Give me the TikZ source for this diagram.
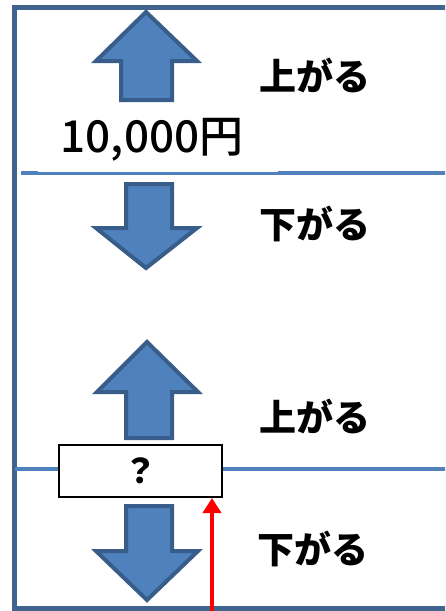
\documentclass[tikz,border=0pt]{standalone}
\usepackage{fontspec}
\newfontfamily\jp{Noto Sans CJK JP}
\newfontfamily\jpm{Noto Sans CJK JP Medium}
\newfontfamily\jpb{Noto Sans CJK JP Black}
\definecolor{afill}{HTML}{4F81BD}
\definecolor{aline}{HTML}{385D8A}
\definecolor{frame}{HTML}{41648F}
\definecolor{hline}{HTML}{4F81BD}
\usetikzlibrary{arrows.meta}
\tikzset{
  bigarrow/.style={fill=afill,draw=aline,line width=4pt,line join=miter},
  label/.style={font=\jpb\fontsize{37}{40}\selectfont,inner sep=0pt},
  divider/.style={draw=hline,line width=3.5pt},
}
\begin{document}
\begin{tikzpicture}[x=1pt,y=-1pt]
\useasboundingbox (0,0) rectangle (445,611);
\begin{scope}
\clip (0,0) rectangle (445,611);
% frame
\draw[frame,line width=5pt] (450,7) -- (14,7) -- (14,608) -- (450,608);
% dividers
\coordinate (d1a) at (21,173); \coordinate (d1b) at (450,173);
\draw[divider] (d1a) -- (d1b);
\coordinate (d2a) at (15,469); \coordinate (d2b) at (450,469);
\draw[divider] (d2a) -- (d2b);
\end{scope}
% white box behind price
\fill[white] (38,104) rectangle (278,172.3);
\node[font=\jpm\fontsize{44}{46}\selectfont,inner sep=0pt] (price) at (152,140) {10,000円};
% arrows
\draw[bigarrow] (146,12) -- (197,61) -- (172,61) -- (172,100) -- (121,100) -- (121,61) -- (96,61) -- cycle;
\draw[bigarrow] (146,268) -- (197,228) -- (172,228) -- (172,184) -- (126,184) -- (126,228) -- (96,228) -- cycle;
\draw[bigarrow] (147,342) -- (198,392) -- (172,392) -- (172,438) -- (126,438) -- (126,392) -- (97,392) -- cycle;
\draw[bigarrow] (147,600) -- (198,551) -- (172,551) -- (172,506) -- (126,506) -- (126,551) -- (96,551) -- cycle;
% labels
\node[label] (l1) at (315,75) {上がる};
\node[label] (l2) at (315,224) {下がる};
\node[label] (l3) at (315,416) {上がる};
\node[label] (l4) at (313,549) {下がる};
% question box
\node[draw=black,fill=white,line width=2pt,minimum width=163pt,minimum height=52pt,inner sep=0pt] (q) at (140.5,471) {};
\node[font=\jpb\fontsize{34}{36}\selectfont,inner sep=0pt] (qm) at (q.center) {？};
% red arrow
\coordinate (rbot) at (212,615);
\draw[red,line width=4pt,-{Triangle[length=15pt,width=18pt]}] (rbot) -- (212,498);
\end{tikzpicture}
\end{document}
